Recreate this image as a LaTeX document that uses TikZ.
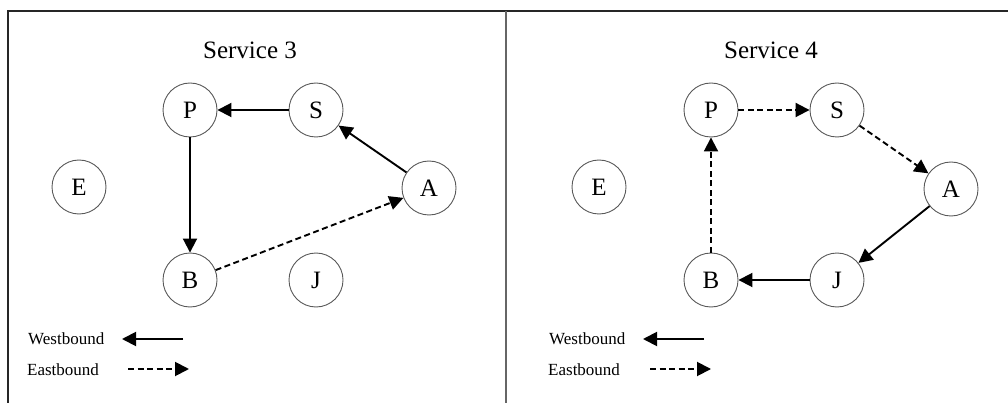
\documentclass[tikz,border=0pt]{standalone}
\usepackage{fontspec}
\setmainfont{Liberation Serif}
\usetikzlibrary{arrows.meta}

\tikzset{
  station/.style={circle, draw=black!65, line width=0.9pt, minimum size=54pt,
    inner sep=0pt, font=\fontsize{25}{30}\selectfont},
  paneltitle/.style={font=\fontsize{25}{30}\selectfont},
  legendtext/.style={anchor=west, inner sep=0pt, font=\fontsize{17}{20}\selectfont},
  westarrow/.style={line width=1.9pt, -{Triangle[length=14pt,width=14pt]}},
  eastarrow/.style={line width=1.9pt, dash pattern=on 6pt off 3.5pt,
    -{Triangle[length=14pt,width=14pt]}},
  frameline/.style={line width=1.4pt, black!85},
  divider/.style={line width=1.4pt, black!60},
}

\begin{document}
\begin{tikzpicture}[x=1pt, y=-1pt]
  \useasboundingbox (0,0) rectangle (1008,403);

  % outer frame and panel divider
  \coordinate (tl) at (8,11);
  \coordinate (tr) at (1008,11);
  \coordinate (bl) at (8,403);
  \coordinate (dt) at (506,11);
  \coordinate (db) at (506,403);
  \draw[frameline] (bl) -- (tl) -- (tr);
  \draw[divider] (dt) -- (db);

  % ---------- Service 3 ----------
  \node[paneltitle] (t3) at (250,50) {Service 3};
  \node[station] (P3) at (190,110) {P};
  \node[station] (S3) at (316,110) {S};
  \node[station] (A3) at (429,188) {A};
  \node[station] (E3) at (79,187) {E};
  \node[station] (B3) at (190,280) {B};
  \node[station] (J3) at (316,280) {J};

  \draw[westarrow] (S3) -- (P3);
  \draw[westarrow] (A3) -- (S3);
  \draw[westarrow] (P3) -- (B3);
  \draw[eastarrow] (B3) -- (A3);

  \node[legendtext] (w3) at (28,339) {Westbound};
  \node[legendtext] (e3) at (27,370) {Eastbound};
  \coordinate (w3s) at (183,339);
  \coordinate (w3e) at (122,339);
  \coordinate (e3s) at (128,369);
  \coordinate (e3e) at (189,369);
  \draw[westarrow] (w3s) -- (w3e);
  \draw[eastarrow] (e3s) -- (e3e);

  % ---------- Service 4 ----------
  \node[paneltitle] (t4) at (771,50) {Service 4};
  \node[station] (P4) at (711,110) {P};
  \node[station] (S4) at (837,110) {S};
  \node[station] (A4) at (951,189) {A};
  \node[station] (E4) at (599,187) {E};
  \node[station] (B4) at (711,280) {B};
  \node[station] (J4) at (837,280) {J};

  \draw[eastarrow] (P4) -- (S4);
  \draw[eastarrow] (S4) -- (A4);
  \draw[westarrow] (A4) -- (J4);
  \draw[westarrow] (J4) -- (B4);
  \draw[eastarrow] (B4) -- (P4);

  \node[legendtext] (w4) at (549,339) {Westbound};
  \node[legendtext] (e4) at (548,370) {Eastbound};
  \coordinate (w4s) at (704,339);
  \coordinate (w4e) at (643,339);
  \coordinate (e4s) at (650,369);
  \coordinate (e4e) at (711,369);
  \draw[westarrow] (w4s) -- (w4e);
  \draw[eastarrow] (e4s) -- (e4e);
\end{tikzpicture}
\end{document}
